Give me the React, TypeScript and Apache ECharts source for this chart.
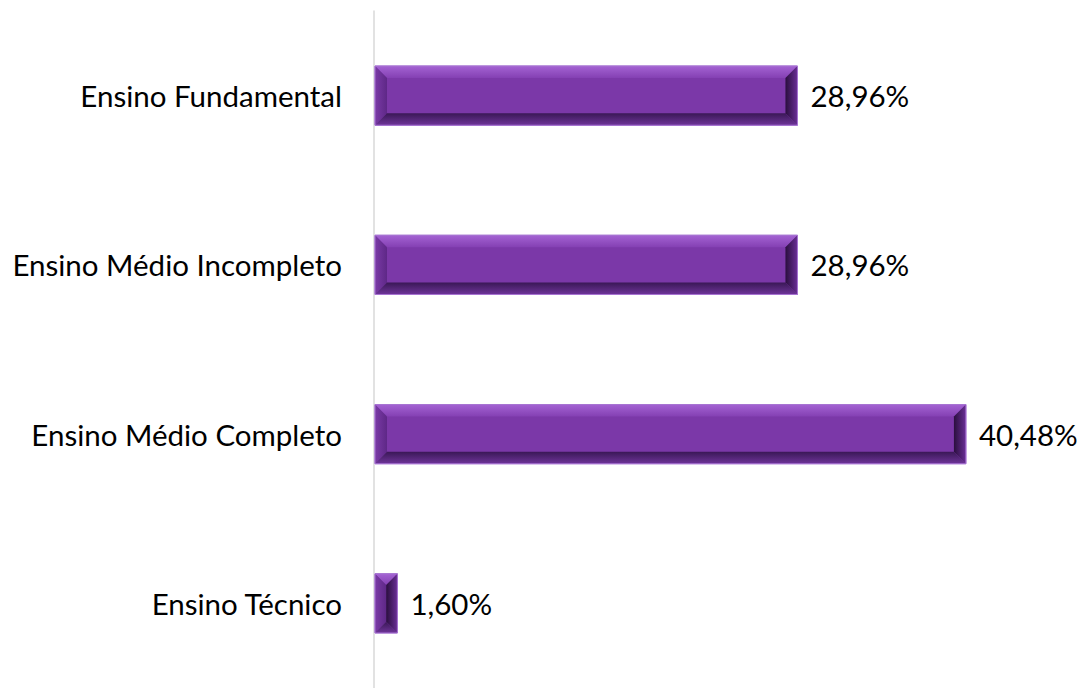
import React, { useEffect, useRef } from "react";
import * as echarts from "echarts";

const categories = [
  "Ensino Fundamental",
  "Ensino Médio Incompleto",
  "Ensino Médio Completo",
  "Ensino Técnico",
];
const values = [28.96, 28.96, 40.48, 1.6];
const valueLabels = ["28,96%", "28,96%", "40,48%", "1,60%"];

const FONT = "Lato, 'Open Sans', sans-serif";
const FONT_SIZE = 29.5;

export default function App() {
  const ref = useRef<HTMLDivElement>(null);
  useEffect(() => {
    document.body.style.margin = "0";
    const chart = echarts.init(ref.current!, null, { renderer: "svg" });
    const data = values.map((v, i) => [v, i]);
    chart.setOption({
      animation: false,
      backgroundColor: "#ffffff",
      grid: { left: 374, top: 11, width: 658, height: 686 },
      xAxis: {
        type: "value",
        min: 0,
        max: 45,
        show: false,
      },
      yAxis: {
        type: "category",
        data: categories,
        inverse: true,
        axisLine: { show: true, lineStyle: { color: "#d9d9d9", width: 1.5 } },
        axisTick: { show: false },
        splitLine: { show: false },
        axisLabel: {
          margin: 32,
          fontSize: FONT_SIZE,
          color: "#000000",
          fontFamily: FONT,
        },
      },
      series: [
        {
          type: "custom",
          z: 3,
          renderItem: (params: any, api: any) => {
            const v = api.value(0);
            const c = api.value(1);
            const p0 = api.coord([0, c]);
            const p1 = api.coord([v, c]);
            const h = api.size([0, 1])[1] * 0.35;
            const x0 = p0[0] + 1;
            const x1 = p1[0];
            const y0 = p0[1] - h / 2;
            const y1 = p0[1] + h / 2;
            const w = x1 - x0;
            const b = Math.min(12, w / 2, h / 2);
            const xi0 = x0 + b;
            const xi1 = x1 - b;
            const yi0 = y0 + b;
            const yi1 = y1 - b;
            return {
              type: "group",
              children: [
                {
                  type: "rect",
                  shape: { x: x0, y: y0, width: w, height: h },
                  style: { fill: "#7b38a8", stroke: "#a774d2", lineWidth: 1 },
                },
                {
                  type: "polygon",
                  shape: { points: [[x0, y0], [x1, y0], [xi1, yi0], [xi0, yi0]] },
                  style: {
                    fill: new echarts.graphic.LinearGradient(0, 0, 0, 1, [
                      { offset: 0, color: "#a463d3" },
                      { offset: 1, color: "#8440b3" },
                    ]),
                  },
                },
                {
                  type: "polygon",
                  shape: { points: [[x0, y0], [xi0, yi0], [xi0, yi1], [x0, y1]] },
                  style: {
                    fill: new echarts.graphic.LinearGradient(0, 0, 1, 0, [
                      { offset: 0, color: "#7a3aa6" },
                      { offset: 1, color: "#5e2887" },
                    ]),
                  },
                },
                {
                  type: "polygon",
                  shape: { points: [[x1, y0], [x1, y1], [xi1, yi1], [xi1, yi0]] },
                  style: {
                    fill: new echarts.graphic.LinearGradient(0, 0, 1, 0, [
                      { offset: 0, color: "#2a0f3e" },
                      { offset: 1, color: "#6a2e96" },
                    ]),
                  },
                },
                {
                  type: "polygon",
                  shape: { points: [[x0, y1], [xi0, yi1], [xi1, yi1], [x1, y1]] },
                  style: {
                    fill: new echarts.graphic.LinearGradient(0, 0, 0, 1, [
                      { offset: 0, color: "#3a1856" },
                      { offset: 1, color: "#6e3499" },
                    ]),
                  },
                },
                {
                  type: "rect",
                  shape: { x: x0, y: y0, width: w, height: h },
                  style: { fill: "none", stroke: "#a774d2", lineWidth: 1 },
                },
              ],
            };
          },
          data,
        },
        {
          type: "bar",
          z: 2,
          data: values,
          barWidth: "35%",
          itemStyle: { color: "rgba(0,0,0,0)" },
          label: {
            show: true,
            position: "right",
            distance: 13,
            fontSize: FONT_SIZE,
            color: "#000000",
            fontFamily: FONT,
            formatter: (p: any) => valueLabels[p.dataIndex],
          },
        },
      ],
    });
    return () => chart.dispose();
  }, []);
  return (
    <div
      ref={ref}
      style={{ position: "fixed", left: 0, top: 0, width: 1083, height: 688 }}
    />
  );
}
